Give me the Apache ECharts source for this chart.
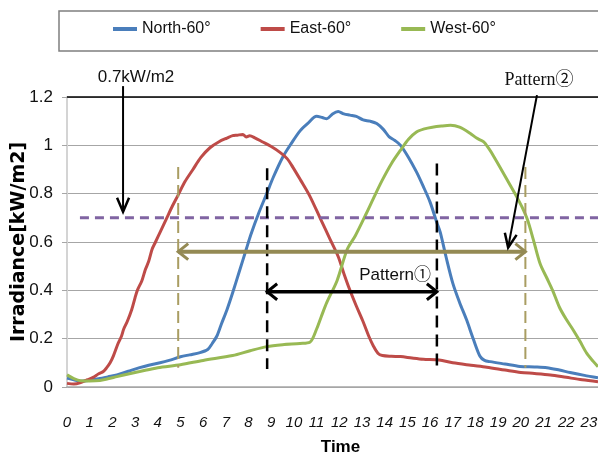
<!DOCTYPE html>
<html>
<head>
<meta charset="UTF-8" />
<title>Irradiance</title>
<style>
* { margin: 0; padding: 0; }
html, body { width: 598px; height: 459px; background: #fff; }
#chart { width: 598px; height: 459px; }
</style>
</head>
<body>
<div id="chart"></div>
<script src="https://cdn.jsdelivr.net/npm/echarts@6/dist/echarts.min.js"></script>
<script>
// series values [hour, kW/m2]
let northData = [[0,0.037],[0.3,0.03],[0.6,0.024],[1.0,0.028],[1.45,0.035],[1.8,0.042],[2.2,0.05],[2.7,0.065],[3.2,0.08],[3.6,0.09],[4.1,0.1],[4.5,0.11],[5.0,0.125],[5.4,0.133],[5.86,0.142],[6.2,0.155],[6.4,0.18],[6.6,0.21],[6.8,0.26],[7.05,0.32],[7.3,0.39],[7.6,0.48],[7.9,0.57],[8.1,0.63],[8.45,0.72],[8.8,0.80],[9.1,0.87],[9.5,0.95],[9.9,1.01],[10.27,1.06],[10.6,1.09],[11.0,1.12],[11.25,1.115],[11.45,1.11],[11.7,1.13],[11.95,1.14],[12.2,1.13],[12.47,1.125],[12.75,1.12],[13.05,1.105],[13.35,1.1],[13.65,1.09],[13.95,1.065],[14.2,1.035],[14.45,1.02],[14.7,1.0],[15.05,0.95],[15.4,0.89],[15.7,0.83],[16.0,0.765],[16.3,0.68],[16.45,0.64],[16.7,0.54],[17.0,0.43],[17.3,0.35],[17.6,0.28],[17.9,0.2],[18.2,0.127],[18.4,0.11],[18.65,0.105],[19.3,0.095],[19.96,0.085],[20.6,0.083],[21.15,0.08],[21.7,0.07],[22.17,0.06],[22.8,0.048],[23.4,0.038]]
let eastData = [[0,0.015],[0.3,0.012],[0.6,0.018],[0.9,0.03],[1.15,0.04],[1.4,0.055],[1.6,0.064],[1.75,0.08],[1.9,0.1],[2.05,0.13],[2.25,0.18],[2.4,0.21],[2.5,0.24],[2.65,0.27],[2.85,0.32],[3.0,0.37],[3.1,0.4],[3.3,0.44],[3.45,0.485],[3.6,0.52],[3.75,0.57],[3.9,0.6],[4.1,0.64],[4.4,0.70],[4.65,0.75],[4.9,0.795],[5.2,0.85],[5.55,0.90],[5.9,0.95],[6.3,0.99],[6.7,1.015],[7.05,1.03],[7.3,1.04],[7.5,1.042],[7.75,1.045],[7.9,1.035],[8.05,1.04],[8.3,1.03],[8.6,1.015],[9.0,0.995],[9.4,0.97],[9.7,0.945],[9.95,0.91],[10.3,0.855],[10.7,0.79],[11.15,0.70],[11.6,0.61],[11.95,0.54],[12.2,0.47],[12.47,0.40],[12.75,0.335],[13.05,0.27],[13.3,0.21],[13.5,0.17],[13.7,0.14],[13.9,0.13],[14.3,0.127],[14.7,0.126],[15.2,0.12],[15.7,0.115],[16.4,0.112],[17.0,0.1],[17.8,0.09],[18.5,0.082],[19.3,0.07],[20.0,0.06],[20.6,0.056],[21.3,0.05],[22.0,0.04],[22.7,0.03],[23.4,0.022]]
let westData = [[0,0.05],[0.3,0.035],[0.6,0.026],[1.0,0.025],[1.45,0.027],[1.8,0.034],[2.2,0.043],[2.7,0.054],[3.2,0.064],[4.0,0.08],[5.0,0.092],[6.0,0.11],[7.3,0.13],[8.07,0.15],[8.8,0.167],[9.5,0.175],[10.27,0.18],[10.7,0.185],[11.0,0.24],[11.2,0.29],[11.45,0.35],[11.9,0.44],[12.35,0.57],[12.7,0.625],[13.2,0.72],[13.55,0.79],[13.9,0.857],[14.3,0.925],[14.7,0.98],[15.05,1.025],[15.4,1.055],[15.75,1.068],[16.1,1.075],[16.5,1.08],[16.9,1.083],[17.3,1.075],[17.76,1.05],[18.05,1.03],[18.35,1.015],[18.6,0.985],[18.8,0.955],[19.2,0.89],[19.5,0.84],[19.8,0.79],[20.05,0.745],[20.3,0.69],[20.55,0.61],[20.85,0.51],[21.15,0.45],[21.4,0.40],[21.7,0.33],[22.0,0.28],[22.3,0.237],[22.6,0.19],[22.9,0.14],[23.2,0.105],[23.4,0.084]]

let seriesNames = ['North-60°', 'East-60°', 'West-60°']
let colors = ['#4a7ebb', '#be4b48', '#98b954']

// annotation positions (hours / kW/m2)
let threshold = 0.7
let pattern1 = [8.82, 16.3]
let pattern1Level = 0.394
let pattern2 = [4.9, 20.2]
let pattern2Level = 0.56

const SANS = '"Liberation Sans", "Noto Sans CJK JP", sans-serif'

let chart = echarts.init(document.getElementById('chart'))

let option = {
  animation: false,
  backgroundColor: '#fff',
  grid: { left: 67, right: 0, top: 97, bottom: 72, containLabel: false, outerBoundsMode: 'none' },
  legend: {
    data: seriesNames,
    left: 113,
    top: 21,
    padding: 0,
    itemGap: 50,
    itemWidth: 24,
    itemHeight: 4,
    icon: 'rect',
    textStyle: { fontFamily: SANS, fontSize: 16, color: '#111' }
  },
  xAxis: {
    type: 'value',
    min: 0,
    max: 23.4,
    interval: 1,
    name: 'Time',
    nameLocation: 'middle',
    nameGap: 52,
    nameTextStyle: { fontFamily: SANS, fontSize: 17, fontWeight: 'bold', color: '#000', padding: [0, 0, 0, 16] },
    axisLine: { lineStyle: { color: '#a6a6a6', width: 1.5 } },
    axisTick: { show: false },
    splitLine: { show: false },
    axisLabel: {
      margin: 28,
      fontFamily: SANS,
      fontStyle: 'italic',
      fontSize: 15,
      color: '#111',
      formatter: v => Number.isInteger(v) ? String(v) : ''
    }
  },
  yAxis: {
    type: 'value',
    min: 0,
    max: 1.2,
    interval: 0.2,
    name: 'Irradiance[kW/m2]',
    nameLocation: 'middle',
    nameGap: 38,
    nameMoveOverlap: false,
    nameTextStyle: { fontFamily: '"DejaVu Sans", sans-serif', fontSize: 19, fontWeight: 'bold', color: '#000' },
    axisLine: { show: true, lineStyle: { color: '#d4d4d4', width: 2 } },
    axisTick: { show: true, length: 5, lineStyle: { color: '#a6a6a6' } },
    splitLine: { lineStyle: { color: '#a6a6a6', width: 1.2 } },
    axisLabel: {
      margin: 14,
      fontFamily: SANS,
      fontSize: 17,
      color: '#111',
      formatter: v => String(Math.round(v * 10) / 10)
    }
  },
  series: [
    { name: seriesNames[0], type: 'line', data: northData },
    { name: seriesNames[1], type: 'line', data: eastData },
    { name: seriesNames[2], type: 'line', data: westData }
  ].map((s, i) => Object.assign(s, {
    showSymbol: false,
    smooth: 0.3,
    color: colors[i],
    lineStyle: { width: 3, color: colors[i] },
    z: 3
  }))
}
chart.setOption(option)

// --- annotations, placed through the chart's own scales ---
const P = (t, v) => chart.convertToPixel({ seriesIndex: 0 }, [t, v])

function seg(a, b, color, w, dash) {
  return {
    type: 'line', z: 20, silent: true,
    shape: { x1: a[0], y1: a[1], x2: b[0], y2: b[1] },
    style: { stroke: color, lineWidth: w, lineDash: dash || null }
  }
}
function head(tip, from, len, half, color, w) {
  let dx = tip[0] - from[0], dy = tip[1] - from[1]
  let d = Math.sqrt(dx * dx + dy * dy)
  let ux = dx / d, uy = dy / d
  let bx = tip[0] - ux * len, by = tip[1] - uy * len
  return {
    type: 'polyline', z: 21, silent: true,
    shape: { points: [[bx - uy * half, by + ux * half], tip, [bx + uy * half, by - ux * half]] },
    style: { stroke: color, lineWidth: w, fill: null }
  }
}
function label(t, v, text, font) {
  let p = P(t, v)
  return {
    type: 'text', z: 22, silent: true,
    style: { text: text, x: p[0], y: p[1], font: font, fill: '#111', align: 'center', verticalAlign: 'middle' }
  }
}

let olive = '#948a54'
let oliveDash = '#a99d62'
let g = []

// legend frame
g.push({ type: 'rect', z: 1, silent: true, shape: { x: 59, y: 11, width: 600, height: 40 }, style: { fill: null, stroke: '#7f7f7f', lineWidth: 1.5 } })
// plot top border
g.push(seg(P(0, 1.2), P(23.4, 1.2), '#000', 1.5))

// 0.7 kW/m2 threshold
g.push(seg(P(0.57, threshold), P(23.4, threshold), '#8064a2', 3, [9, 6]))

// vertical dashed markers
g.push(seg(P(pattern2[0], 0.91), P(pattern2[0], 0.08), oliveDash, 2, [12, 6]))
g.push(seg(P(pattern2[1], 0.91), P(pattern2[1], 0.08), oliveDash, 2, [12, 6]))
g.push(seg(P(pattern1[0], 0.905), P(pattern1[0], 0.075), '#000', 2.5, [12, 7]))
g.push(seg(P(pattern1[1], 0.925), P(pattern1[1], 0.08), '#000', 2.5, [12, 7]))

// pattern 2 double arrow
let a2 = P(pattern2[0], pattern2Level), b2 = P(pattern2[1], pattern2Level)
g.push(seg(a2, b2, olive, 4))
g.push(head(a2, b2, 10, 8, olive, 3))
g.push(head(b2, a2, 10, 8, olive, 3))

// pattern 1 double arrow
let a1 = P(pattern1[0], pattern1Level), b1 = P(pattern1[1], pattern1Level)
g.push(seg(a1, b1, '#000', 3.5))
g.push(head(a1, b1, 10, 8, '#000', 3))
g.push(head(b1, a1, 10, 8, '#000', 3))

// callout arrows
let c1 = P(2.47, 1.245), c2 = P(2.47, 0.725)
g.push(seg(c1, c2, '#000', 2))
g.push(head(c2, c1, 14, 6, '#000', 2.5))
let d1 = P(20.71, 1.208), d2 = P(19.44, 0.577)
g.push(seg(d1, d2, '#000', 2))
g.push(head(d2, d1, 14, 6, '#000', 2.5))

// texts
g.push(label(3.04, 1.283, '0.7kW/m2', '17px ' + SANS))
g.push(label(20.8, 1.27, 'Pattern②', '18px "Liberation Serif", "Noto Sans CJK JP", serif'))
g.push(label(14.46, 0.464, 'Pattern①', '17px ' + SANS))

chart.setOption({ graphic: g })
</script>
</body>
</html>
